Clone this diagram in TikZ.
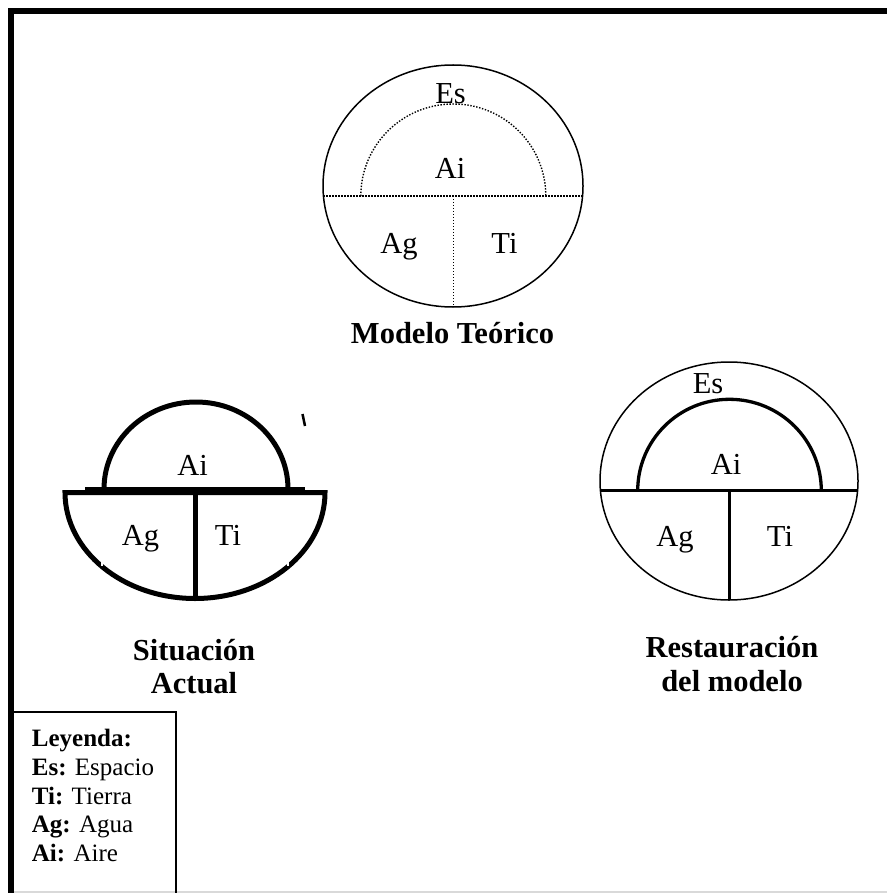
\documentclass[tikz,border=0pt]{standalone}
\usepackage{fontspec}
\setmainfont{Liberation Serif}
\begin{document}
\begin{tikzpicture}[x=1pt,y=-1pt,
  lbl/.style={inner sep=0pt,anchor=base,font=\fontsize{30.5}{36}\selectfont},
  ttl/.style={inner sep=0pt,anchor=base,font=\fontsize{30.5}{36}\selectfont\bfseries},
  leg/.style={inner sep=0pt,anchor=base west,font=\fontsize{25}{30}\selectfont},
  thin/.style={line width=1.5pt},
  dotline/.style={line width=1.4pt,dash pattern=on 1.4pt off 1.6pt},
  med/.style={line width=3.3pt},
  heavy/.style={line width=5pt}]
\useasboundingbox (0,0) rectangle (887,893);
% frame
\draw[gray!30,line width=1.5pt] (8,891.8) -- (887,891.8);
\draw[line width=6pt] (11,893) -- (11,11) -- (887,11);
% legend box
\draw[thin] (14,712) -- (176,712) -- (176,893);

% ---------- Modelo Teorico ----------
\coordinate (mc) at (453,186);
\coordinate (mo) at (453.3,196);
\draw[thin] (mc) ellipse [x radius=130, y radius=121];
\draw[dotline] (323.4,196) -- (582.6,196);
\draw[dotline] ([xshift=-92.5pt]mo) arc[start angle=180,end angle=360,x radius=92.5,y radius=92];
\draw[dotline] (mo) -- (453.3,306.5);
\node[lbl] (mEs) at (450.5,104) {Es};
\node[lbl] (mAi) at (450,178.3) {Ai};
\node[lbl] (mAg) at (399,253.3) {Ag};
\node[lbl] (mTi) at (504.5,253.3) {Ti};
\node[ttl] (mT) at (452.5,343) {Modelo Teórico};

% ---------- Situacion Actual ----------
\coordinate (sc) at (196,489);
\coordinate (sb) at (195,492.5);
\draw[heavy] ([xshift=-92pt]sc) arc[start angle=180,end angle=360,x radius=92,y radius=87];
\draw[heavy] (85,489) -- (305,489);
\draw[heavy] (65,492.5) arc[start angle=180,end angle=0,x radius=130,y radius=106] -- cycle;
\draw[heavy] (195,492.5) -- (195,600);
\draw[line width=2.5pt] (302.5,414) -- (305,426);
% small white clip notches
\fill[white] (101.2,496) rectangle (102.4,499);
\fill[white] (287.6,496) rectangle (288.8,499);
\fill[white] (101.2,556) rectangle (102.6,566);
\fill[white] (287.4,556) rectangle (288.8,566);
\fill[white] (116,419) rectangle (119.5,434);
\node[lbl] (sAi) at (192.5,475) {Ai};
\node[lbl] (sAg) at (140.5,545) {Ag};
\node[lbl] (sTi) at (228,545) {Ti};
\node[ttl] (sT1) at (194,660.5) {Situación};
\node[ttl] (sT2) at (194,693.5) {Actual};

% ---------- Restauracion del modelo ----------
\coordinate (rc) at (729,481);
\coordinate (ro) at (729.5,490.7);
\draw[thin] (rc) ellipse [x radius=129, y radius=119];
\draw[med] (600.4,490.7) -- (857.6,490.7);
\draw[med] ([xshift=-91.8pt]ro) arc[start angle=180,end angle=360,x radius=91.8,y radius=91.4];
\draw[med] (ro) -- (729.5,599.5);
\node[lbl] (rEs) at (708,393) {Es};
\node[lbl] (rAi) at (726,474) {Ai};
\node[lbl] (rAg) at (675,546.7) {Ag};
\node[lbl] (rTi) at (780,546.7) {Ti};
\node[ttl] (rT1) at (732,657.5) {Restauración};
\node[ttl] (rT2) at (732,691.7) {del modelo};

% ---------- Legend ----------
\node[leg] (l0) at (31.7,746.5) {\textbf{Leyenda:}};
\node[leg] (l1) at (31.7,775.3) {\textbf{Es:} Espacio};
\node[leg] (l2) at (31.7,804.1) {\textbf{Ti:} Tierra};
\node[leg] (l3) at (31.7,832.9) {\textbf{Ag:} Agua};
\node[leg] (l4) at (31.7,861.7) {\textbf{Ai:} Aire};
\end{tikzpicture}
\end{document}
